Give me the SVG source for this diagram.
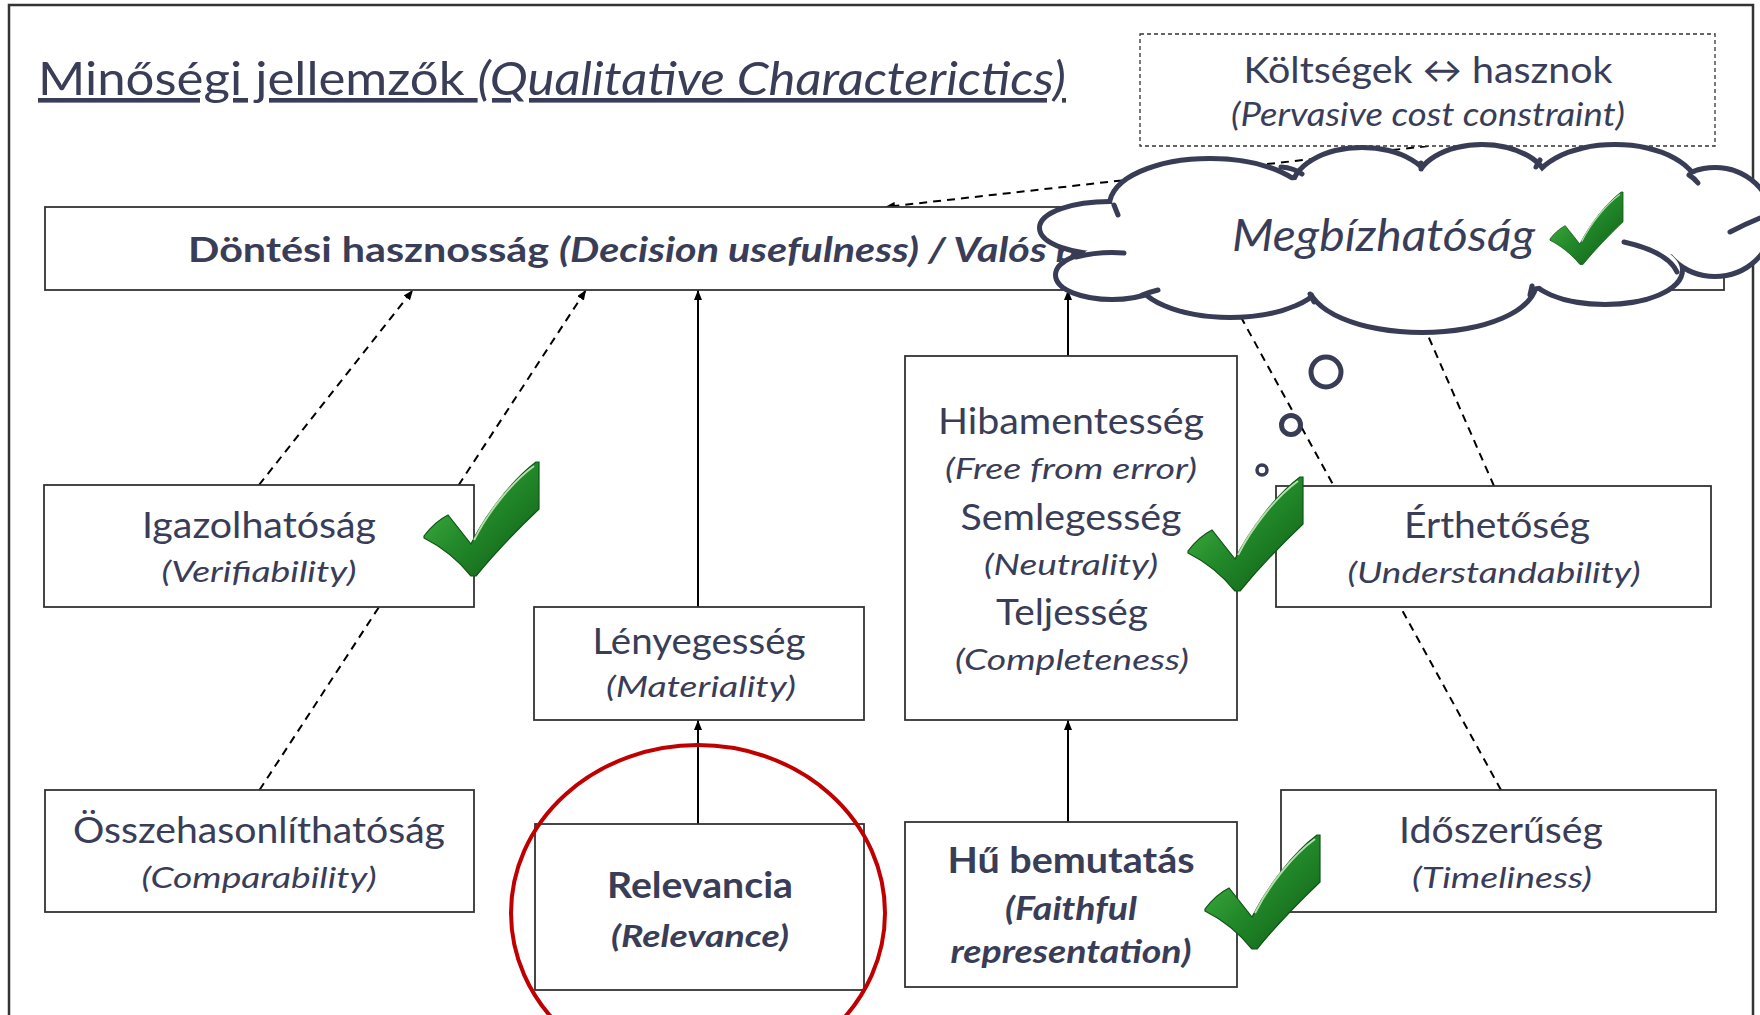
<svg xmlns="http://www.w3.org/2000/svg" xmlns:xlink="http://www.w3.org/1999/xlink" width="1760" height="1015" viewBox="0 0 1760 1015">
<style>
.t{font-family:Lato,"Open Sans","DejaVu Sans",sans-serif;fill:#393D58;text-anchor:middle}
.s{text-anchor:start}
.i{font-style:italic}
.b{font-weight:bold}
.box{fill:#fff;stroke:#333;stroke-width:1.8}
.sol{fill:none;stroke:#000;stroke-width:2}
.dash{fill:none;stroke:#000;stroke-width:2;stroke-dasharray:8 6}
.cl{fill:none;stroke:#383C55;stroke-width:5;stroke-linecap:round}
</style>
<defs>
<marker id="ah" markerUnits="userSpaceOnUse" markerWidth="10" markerHeight="8" refX="10" refY="4" orient="auto">
<path d="M0,0 L10,4 L0,8 Z" fill="#000"/>
</marker>
<linearGradient id="gg" x1="0" y1="0" x2="1" y2="1">
<stop offset="0" stop-color="#4DBE4A"/>
<stop offset="0.5" stop-color="#22892A"/>
<stop offset="1" stop-color="#0D5A12"/>
</linearGradient>
<g id="check">
<path d="M0,74 C6,66 14,58 24,53 L47,82 C62,52 88,18 112,0 L115,0 L115,47 C95,66 70,92 52,114 L47,114 C34,98 16,84 0,76 Z" fill="url(#gg)" stroke="#0F5514" stroke-width="1.2"/>
<path d="M50,78 C64,50 88,20 110,4" fill="none" stroke="#CDEFC4" stroke-width="2" opacity="0.85"/>
</g>
<g id="cloudShapes">
<ellipse cx="1110" cy="228" rx="68" ry="24"/>
<ellipse cx="1210" cy="205" rx="98" ry="44"/>
<ellipse cx="1362" cy="190" rx="68" ry="40"/>
<ellipse cx="1482" cy="185" rx="64" ry="38"/>
<ellipse cx="1615" cy="192" rx="82" ry="45"/>
<ellipse cx="1715" cy="222" rx="55" ry="52"/>
<ellipse cx="1605" cy="270" rx="75" ry="32"/>
<ellipse cx="1422" cy="282" rx="112" ry="48"/>
<ellipse cx="1230" cy="275" rx="92" ry="40"/>
<ellipse cx="1112" cy="275" rx="54" ry="22"/>
<ellipse cx="1400" cy="235" rx="260" ry="60"/>
</g>
</defs>

<rect id="frame" x="9" y="5" width="1744" height="1040" fill="#fff" stroke="#333" stroke-width="2.5"/>

<text id="title" class="t s" x="38" y="95" font-size="46" textLength="1028" lengthAdjust="spacingAndGlyphs" text-decoration="underline">Minőségi jellemzők <tspan class="i">(Qualitative Characterictics)</tspan></text>

<g id="connectors">
<line class="sol" x1="698" y1="607" x2="698" y2="290" marker-end="url(#ah)"/>
<line class="sol" x1="698" y1="824" x2="698" y2="720" marker-end="url(#ah)"/>
<line class="sol" x1="1068" y1="356" x2="1068" y2="290" marker-end="url(#ah)"/>
<line class="sol" x1="1068" y1="822" x2="1068" y2="720" marker-end="url(#ah)"/>
<line class="dash" x1="259" y1="485" x2="413" y2="290" marker-end="url(#ah)"/>
<line class="dash" x1="259.5" y1="790" x2="586" y2="290" marker-end="url(#ah)"/>
<line class="dash" x1="1501" y1="790" x2="1226" y2="290" marker-end="url(#ah)"/>
<line class="dash" x1="1494" y1="486" x2="1408" y2="290" marker-end="url(#ah)"/>
<line class="dash" x1="1428" y1="146" x2="885" y2="207" marker-end="url(#ah)"/>
</g>

<g id="dontesi">
<rect class="box" x="45" y="207" width="1679" height="83"/>
<text class="t s b" x="188" y="262" font-size="35" textLength="890" lengthAdjust="spacingAndGlyphs">Döntési hasznosság <tspan class="i">(Decision usefulness) / Valós b</tspan></text>
</g>

<g id="koltsegek">
<rect x="1140" y="34" width="575" height="112" fill="#fff" stroke="#333" stroke-width="1.3" stroke-dasharray="4 3"/>
<text class="t" x="1428" y="83" font-size="37" textLength="369" lengthAdjust="spacingAndGlyphs">Költségek ↔ hasznok</text>
<text class="t i" x="1428" y="126" font-size="33" textLength="394" lengthAdjust="spacingAndGlyphs">(Pervasive cost constraint)</text>
</g>

<g id="igazolhatosag">
<rect class="box" x="44" y="485" width="430" height="122"/>
<text class="t" x="259" y="538" font-size="37" textLength="234" lengthAdjust="spacingAndGlyphs">Igazolhatóság</text>
<text class="t i" x="259" y="582" font-size="29" textLength="195" lengthAdjust="spacingAndGlyphs">(Verifiability)</text>
</g>

<g id="lenyegesseg">
<rect class="box" x="534" y="607" width="330" height="113"/>
<text class="t" x="699" y="654" font-size="37" textLength="213" lengthAdjust="spacingAndGlyphs">Lényegesség</text>
<text class="t i" x="701" y="697" font-size="29" textLength="190" lengthAdjust="spacingAndGlyphs">(Materiality)</text>
</g>

<g id="osszehasonlithatosag">
<rect class="box" x="45" y="790" width="429" height="122"/>
<text class="t" x="259" y="843" font-size="37" textLength="372" lengthAdjust="spacingAndGlyphs">Összehasonlíthatóság</text>
<text class="t i" x="259" y="888" font-size="29" textLength="235" lengthAdjust="spacingAndGlyphs">(Comparability)</text>
</g>

<g id="relevancia">
<rect class="box" x="535" y="824" width="329" height="166"/>
<text class="t b" x="700" y="898" font-size="36" textLength="186" lengthAdjust="spacingAndGlyphs">Relevancia</text>
<text class="t b i" x="700" y="947" font-size="30" textLength="178" lengthAdjust="spacingAndGlyphs">(Relevance)</text>
</g>

<g id="hibamentesseg">
<rect class="box" x="905" y="356" width="332" height="364"/>
<text class="t" x="1071" y="434" font-size="37" textLength="266" lengthAdjust="spacingAndGlyphs">Hibamentesség</text>
<text class="t i" x="1071" y="479" font-size="29" textLength="252" lengthAdjust="spacingAndGlyphs">(Free from error)</text>
<text class="t" x="1071" y="530" font-size="37" textLength="221" lengthAdjust="spacingAndGlyphs">Semlegesség</text>
<text class="t i" x="1071" y="575" font-size="29" textLength="174" lengthAdjust="spacingAndGlyphs">(Neutrality)</text>
<text class="t" x="1072" y="625" font-size="37" textLength="152" lengthAdjust="spacingAndGlyphs">Teljesség</text>
<text class="t i" x="1072" y="670" font-size="29" textLength="234" lengthAdjust="spacingAndGlyphs">(Completeness)</text>
</g>

<g id="hu-bemutatas">
<rect class="box" x="905" y="822" width="332" height="165"/>
<text class="t b" x="1071" y="873" font-size="37" textLength="247" lengthAdjust="spacingAndGlyphs">Hű bemutatás</text>
<text class="t b i" x="1071" y="920" font-size="32" textLength="132" lengthAdjust="spacingAndGlyphs">(Faithful</text>
<text class="t b i" x="1071" y="963" font-size="32" textLength="241" lengthAdjust="spacingAndGlyphs">representation)</text>
</g>

<g id="erthetoseg">
<rect class="box" x="1276" y="486" width="435" height="121"/>
<text class="t" x="1497" y="538" font-size="37" textLength="186" lengthAdjust="spacingAndGlyphs">Érthetőség</text>
<text class="t i" x="1494" y="583" font-size="29" textLength="293" lengthAdjust="spacingAndGlyphs">(Understandability)</text>
</g>

<g id="idoszeruseg">
<rect class="box" x="1281" y="790" width="435" height="122"/>
<text class="t" x="1501" y="843" font-size="37" textLength="204" lengthAdjust="spacingAndGlyphs">Időszerűség</text>
<text class="t i" x="1502" y="888" font-size="29" textLength="180" lengthAdjust="spacingAndGlyphs">(Timeliness)</text>
</g>

<ellipse id="relevance-highlight" cx="698" cy="913" rx="187" ry="168" fill="none" stroke="#C00000" stroke-width="4"/>

<g id="checks">
<use xlink:href="#check" transform="translate(424,462)"/>
<use xlink:href="#check" transform="translate(1188,477)"/>
<use xlink:href="#check" transform="translate(1205,835)"/>
</g>

<g id="thought-bubbles" fill="#fff" stroke="#383C55">
<circle cx="1326" cy="372" r="15" stroke-width="5"/>
<circle cx="1291" cy="425" r="9.5" stroke-width="5"/>
<circle cx="1262" cy="470" r="5" stroke-width="3.5"/>
</g>

<g id="megbizhatosag">
<use xlink:href="#cloudShapes" fill="none" stroke="#383C55" stroke-width="10"/>
<use xlink:href="#cloudShapes" fill="#fff" stroke="none"/>
<ellipse cx="1125" cy="253" rx="40" ry="8" fill="#fff"/>
<ellipse cx="1680" cy="225" rx="40" ry="30" fill="#fff"/>
<path class="cl" d="M1114,205 Q1116,210 1118,215"/>
<path class="cl" d="M1281,167 Q1294,168 1302,174"/>
<path class="cl" d="M1421,163 Q1421,166 1421,169"/>
<path class="cl" d="M1540,160 Q1538,163 1536,167"/>
<path class="cl" d="M1689,175 Q1694,178 1698,183"/>
<path class="cl" d="M1730,232 Q1745,224 1760,218"/>
<path class="cl" d="M1624,242 Q1668,252 1677,272"/>
<path class="cl" d="M1530,295 Q1531,290 1532,286"/>
<path class="cl" d="M1314,302 Q1312,298 1310,294"/>
<path class="cl" d="M1142,295 Q1150,292 1158,290"/>
<path class="cl" d="M1076,257 Q1100,251 1124,253"/>
<text class="t s i" x="1232" y="251" font-size="44" textLength="303" lengthAdjust="spacingAndGlyphs">Megbízhatóság</text>
<use xlink:href="#check" transform="translate(1550,192) scale(0.635)"/>
</g>
</svg>
